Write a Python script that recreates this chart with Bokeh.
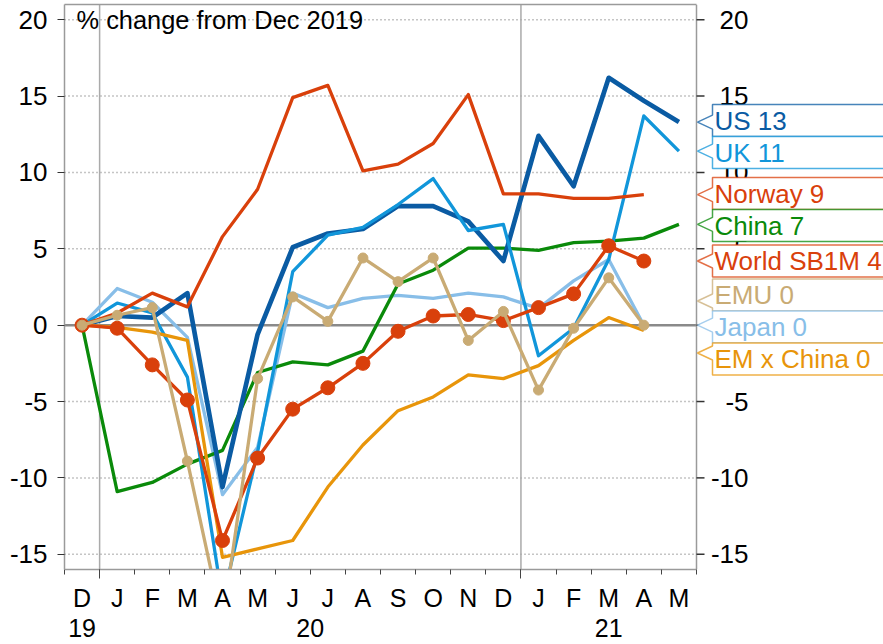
import numpy as np
from bokeh.plotting import figure
from bokeh.models import Range1d, LinearAxis, FixedTicker
from bokeh.core.properties import value
from bokeh.embed import file_html
from bokeh.resources import INLINE

# ---------------- data ----------------
months = ["D", "J", "F", "M", "A", "M", "J", "J", "A", "S", "O", "N", "D", "J", "F", "M", "A", "M"]
years = ["19", "20", "21"]
year_starts = [0, 1, 13]          # month index where each year begins
yticks = [-15, -10, -5, 0, 5, 10, 15, 20]
title_text = "% change from Dec 2019"

nan = np.nan
us     = [0, 0.6, 0.5, 2.1, -10.6, -0.6, 5.1, 6.0, 6.3, 7.8, 7.8, 6.8, 4.2, 12.4, 9.1, 16.2, 14.7, 13.3]
uk     = [0, 1.45, 0.8, -3.4, -18.0, -8.3, 3.5, 5.9, 6.4, 7.9, 9.6, 6.2, 6.6, -2.0, -0.2, 4.3, 13.7, 11.4]
norway = [0, 0.8, 2.1, 1.2, 5.8, 8.9, 14.9, 15.7, 10.1, 10.55, 11.9, 15.1, 8.6, 8.6, 8.3, 8.3, 8.55, nan]
china  = [0, -10.9, -10.3, -9.1, -8.2, -3.1, -2.4, -2.6, -1.7, 2.7, 3.6, 5.05, 5.05, 4.9, 5.4, 5.5, 5.7, 6.6]
world  = [0, -0.2, -2.6, -4.9, -14.1, -8.7, -5.5, -4.1, -2.5, -0.4, 0.6, 0.7, 0.3, 1.15, 2.05, 5.2, 4.2, nan]
emu    = [0, 0.65, 1.15, -8.9, -19.5, -3.5, 1.85, 0.25, 4.4, 2.85, 4.4, -1.0, 0.9, -4.25, -0.2, 3.1, 0.0, nan]
japan  = [0, 2.4, 1.5, -0.8, -11.1, -8.0, 2.1, 1.15, 1.75, 1.95, 1.75, 2.1, 1.85, 1.1, 2.9, 4.3, 0.0, nan]
em_x_china = [0, -0.15, -0.45, -1.0, -15.2, -14.65, -14.1, -10.6, -7.85, -5.6, -4.7, -3.25, -3.5, -2.65, -1.0, 0.5, -0.35, nan]

names = ["US", "UK", "Norway", "China", "World SB1M", "EMU", "Japan", "EM x China"]
values = [us, uk, norway, china, world, emu, japan, em_x_china]

# ---------------- styles ----------------
colors = {"US": "#0A5BA3", "UK": "#1196DA", "Norway": "#D9400B", "China": "#0A8A0A",
          "World SB1M": "#D9400B", "EMU": "#C9AB74", "Japan": "#88BEE8", "EM x China": "#E8950A"}
widths = {"US": 4.7}
markers = {"World SB1M": 14, "EMU": 10}
draw_order = ["Japan", "China", "US", "UK", "EM x China", "Norway", "World SB1M", "EMU"]
FONT = "Liberation Sans"
GREY = "#9a9a9a"

W, H = 883, 644
LEFT, TOP, BOTTOM = 64, 4, 75
N = len(months)
Y0, Y1 = -16, 21
px_x = 632 / N                       # pixels per month
X_END = (W - LEFT) / px_x            # frame runs to the right edge (room for end labels)
px_y = (H - TOP - BOTTOM) / (Y1 - Y0)

p = figure(width=W, height=H, x_range=Range1d(0, X_END), y_range=Range1d(Y0, Y1),
           output_backend="svg", toolbar_location=None,
           min_border_left=LEFT, min_border_right=0, min_border_top=TOP, min_border_bottom=BOTTOM)
p.background_fill_color = "white"
p.border_fill_color = "white"
p.outline_line_color = None
p.xgrid.visible = False
p.ygrid.visible = False
xa = p.below[0]
ya = p.left[0]

# ---- plot box, grid, zero line, year lines ----
gt = [t for t in yticks if t != 0]
p.segment(x0=[0] * len(gt), y0=gt, x1=[N] * len(gt), y1=gt,
          line_color="#8a8a8a", line_width=1.5, line_dash="1 3")
p.segment(x0=year_starts[1:], y0=[Y0] * 2, x1=year_starts[1:], y1=[Y1] * 2,
          line_color="#aaaaaa", line_width=1.5)
p.segment(x0=[0], y0=[0], x1=[N], y1=[0], line_color="#8a8a8a", line_width=2.5)
p.segment(x0=[N], y0=[Y0], x1=[N], y1=[Y1], line_color=GREY, line_width=1.5)

# left axis
ya.ticker = FixedTicker(ticks=yticks)
ya.major_label_overrides = {t: str(t) for t in yticks}
ya.axis_line_color = GREY
ya.axis_line_width = 1.5
ya.major_tick_line_color = "#333333"
ya.major_tick_out = 7
ya.major_tick_in = 0
ya.minor_tick_line_color = None
ya.major_label_standoff = 10
ya.major_label_text_font = FONT
ya.major_label_text_font_size = "26px"
ya.major_label_text_color = "black"

# bottom axis: month boundary ticks, longer at year boundaries
xa.bounds = (0, N)
xa.ticker = FixedTicker(ticks=year_starts[1:], minor_ticks=list(range(N + 1)))
xa.axis_line_color = GREY
xa.axis_line_width = 1.5
xa.major_tick_line_color = "#444444"
xa.minor_tick_line_color = "#444444"
xa.major_tick_out = 9
xa.major_tick_in = 0
xa.minor_tick_out = 5
xa.minor_tick_in = 0
xa.major_label_overrides = {t: "" for t in year_starts[1:]}
xa.major_label_text_font_size = "0px"
xa.major_label_standoff = 0

# top border
ta = LinearAxis(ticker=FixedTicker(ticks=[]), bounds=(0, N))
ta.axis_line_color = GREY
ta.axis_line_width = 1.5
ta.major_tick_line_color = None
ta.minor_tick_line_color = None
ta.major_tick_out = 0
ta.major_label_text_font_size = "0px"
ta.major_label_standoff = 0
p.add_layout(ta, "above")

# month letters
centers_m = [i + 0.5 for i in range(N)]
ma = LinearAxis(ticker=FixedTicker(ticks=centers_m))
ma.major_label_overrides = {c: m for c, m in zip(centers_m, months)}
ma.axis_line_color = None
ma.major_tick_line_color = None
ma.minor_tick_line_color = None
ma.major_tick_out = 0
ma.major_label_standoff = 5
ma.major_label_text_font = FONT
ma.major_label_text_font_size = "25px"
ma.major_label_text_color = "black"
p.add_layout(ma, "below")

# years
bounds = year_starts + [N]
yc = [(bounds[k] + bounds[k + 1]) / 2 for k in range(len(years))]
yra = LinearAxis(ticker=FixedTicker(ticks=yc))
yra.major_label_overrides = {c: y for c, y in zip(yc, years)}
yra.axis_line_color = None
yra.major_tick_line_color = None
yra.minor_tick_line_color = None
yra.major_tick_out = 0
yra.major_label_standoff = 4
yra.major_label_text_font = FONT
yra.major_label_text_font_size = "25px"
yra.major_label_text_color = "black"
p.add_layout(yra, "below")

# right axis ticks and labels (drawn at the plot box edge)
p.segment(x0=[N] * len(yticks), y0=yticks, x1=[N + 8 / px_x] * len(yticks), y1=yticks,
          line_color="#333333", line_width=1.5)
p.text(x=[N + 52 / px_x] * len(yticks), y=yticks, text=[str(t) for t in yticks],
       text_align=value("right"), text_baseline=value("middle"), text_font=value(FONT),
       text_font_size=value("26px"), text_color="black")

# title inside frame
p.text(x=[12 / px_x], y=[20], text=[title_text], text_align=value("left"),
       text_baseline=value("middle"), text_font=value(FONT), text_font_size=value("25.4px"),
       text_color="black")

# series
x = np.arange(N) + 0.5
data = dict(zip(names, values))
for nm in draw_order:
    y = np.array(data[nm], dtype=float)
    p.line(x, y, line_color=colors[nm], line_width=widths.get(nm, 3.3), line_join="round")
    if nm in markers:
        ok = ~np.isnan(y)
        p.scatter(x[ok], y[ok], size=markers[nm], fill_color=colors[nm], line_color=colors[nm])

# end labels with pointers, de-collided
last = []
for v in values:
    arr = np.array(v, dtype=float)
    last.append(arr[~np.isnan(arr)][-1])
order = sorted(range(len(names)), key=lambda k: -last[k])
h = 32 / px_y
clusters = []
for k in order:
    clusters.append([k])
    while len(clusters) > 1:
        a, b = clusters[-2], clusters[-1]
        ca = np.mean([last[j] for j in a])
        cb = np.mean([last[j] for j in b])
        if ca - h * len(a) / 2 < cb + h * len(b) / 2:
            clusters[-2:] = [a + b]
        else:
            break
centers = {}
for cl in clusters:
    c = np.mean([last[j] for j in cl])
    m = len(cl)
    for jj, k in enumerate(cl):
        centers[k] = c + h * ((m - 1) / 2 - jj)

x_tip = N + 1 / px_x
x_left = N + 16 / px_x
x_right = X_END + 1
x_text = N + 18 / px_x
mgn = 10 / px_y
hb = 7 / px_y
for k in order:
    nm = names[k]
    c = centers[k]
    top, bot = c + h / 2, c - h / 2
    tip = min(max(last[k], bot + mgn), top - mgn)
    b_hi = min(tip + hb, top)
    b_lo = max(tip - hb, bot)
    xs = [x_right, x_left, x_left, x_tip, x_left, x_left, x_right]
    ys = [top, top, b_hi, tip, b_lo, bot, bot]
    p.patch(xs, ys, fill_color="white", fill_alpha=1.0,
            line_color=colors[nm], line_alpha=0.75, line_width=1.5)
    p.text(x=[x_text], y=[c], text=[f"{nm} {int(round(last[k]))}"], text_align=value("left"),
           text_baseline=value("middle"), text_font=value(FONT), text_font_size=value("26px"),
           text_color=colors[nm])

open("out.html", "w").write(file_html(p, INLINE))
